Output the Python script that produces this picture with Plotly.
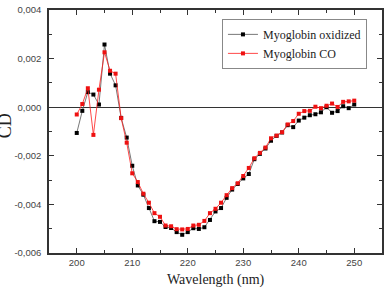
import plotly.graph_objects as go

wavelength = list(range(200, 251))

cd_oxidized = [
    -0.00106, -0.00015, 0.00062, 0.00052, 0.00011, 0.00258, 0.00138, 0.00090, -0.00044, -0.00125,
    -0.00241, -0.00322, -0.00360, -0.00415, -0.00469, -0.00472, -0.00493, -0.00497, -0.00514, -0.00525,
    -0.00514, -0.00498, -0.00501, -0.00494, -0.00464, -0.00429, -0.00415, -0.00373, -0.00339, -0.00316,
    -0.00293, -0.00275, -0.00214, -0.00192, -0.00170, -0.00138, -0.00118, -0.00104, -0.00074, -0.00082,
    -0.00055, -0.00043, -0.00033, -0.00029, -0.00021, 0.00000, -0.00023, -0.00016, 0.00004, -0.00004,
    0.00011,
]

cd_co = [
    -0.00030, 0.00013, 0.00078, -0.00114, 0.00072, 0.00226, 0.00150, 0.00138, -0.00045, -0.00146,
    -0.00272, -0.00308, -0.00356, -0.00393, -0.00436, -0.00451, -0.00487, -0.00490, -0.00502, -0.00503,
    -0.00501, -0.00487, -0.00484, -0.00468, -0.00436, -0.00418, -0.00393, -0.00362, -0.00333, -0.00313,
    -0.00283, -0.00250, -0.00210, -0.00188, -0.00166, -0.00128, -0.00117, -0.00103, -0.00071, -0.00057,
    -0.00027, -0.00016, -0.00015, 0.00002, -0.00004, 0.00006, 0.00015, 0.00001, 0.00022, 0.00024,
    0.00027,
]

y_tickvals = [0.004, 0.002, 0.0, -0.002, -0.004, -0.006]
y_ticktext = ["0,004", "0,002", "0,000", "-0,002", "-0,004", "-0,006"]
x_tickvals = [200, 210, 220, 230, 240, 250]
x_ticktext = ["200", "210", "220", "230", "240", "250"]

SERIF = "Times New Roman, Liberation Serif, DejaVu Serif, serif"
SANS = "Arial, Liberation Sans, sans-serif"

fig = go.Figure()
fig.add_trace(go.Scatter(
    x=wavelength, y=cd_oxidized, mode="lines+markers", name="Myoglobin oxidized",
    line=dict(color="#555555", width=0.8),
    marker=dict(symbol="square", size=4, color="#000000"),
))
fig.add_trace(go.Scatter(
    x=wavelength, y=cd_co, mode="lines+markers", name="Myoglobin CO",
    line=dict(color="#ff1a1a", width=0.8),
    marker=dict(symbol="square", size=4, color="#ee1111"),
))

L, R, T, B = 49, 4, 7, 34
W, H = 388, 287
pw, ph = W - L - R, H - T - B

axis_common = dict(
    showline=True, linecolor="#333333", linewidth=1.5, mirror="ticks",
    ticks="inside", ticklen=5, tickwidth=1, tickcolor="#333333",
    showgrid=False,
    tickfont=dict(family=SANS, size=9.5, color="#444444"),
)

fig.update_xaxes(
    range=[195, 255], tickvals=x_tickvals, ticktext=x_ticktext,
    minor=dict(ticks="inside", ticklen=3, dtick=5, tick0=195, tickcolor="#333333", showgrid=False),
    zeroline=False, ticklabelstandoff=0, **axis_common,
)
fig.update_yaxes(
    range=[-0.006, 0.004], tickvals=y_tickvals, ticktext=y_ticktext,
    minor=dict(ticks="inside", ticklen=3, dtick=0.001, tick0=0, tickcolor="#333333", showgrid=False),
    zeroline=True, zerolinecolor="#333333", zerolinewidth=1.3, ticklabelstandoff=4, **axis_common,
)

fig.update_layout(
    width=W, height=H,
    margin=dict(l=L, r=R, t=T, b=B),
    paper_bgcolor="white", plot_bgcolor="white",
    showlegend=True,
    legend=dict(
        x=(223 - L) / pw, y=1 - (16 - T) / ph, xanchor="left", yanchor="top",
        bgcolor="white", bordercolor="#888888", borderwidth=1,
        font=dict(family=SERIF, size=12, color="#222222"),
        tracegroupgap=0, itemwidth=30,
    ),
    annotations=[
        dict(text="CD", xref="paper", yref="paper", x=(4.5 - L) / pw, y=1 - (124 - T) / ph,
             xanchor="center", yanchor="middle", textangle=-90, showarrow=False,
             font=dict(family=SERIF, size=18, color="#222222")),
        dict(text="Wavelength (nm)", xref="paper", yref="paper", x=(217 - L) / pw, y=1 - (270 - T) / ph,
             xanchor="center", yanchor="top", showarrow=False,
             font=dict(family=SERIF, size=14, color="#222222")),
    ],
)

fig.write_html("out.html")
